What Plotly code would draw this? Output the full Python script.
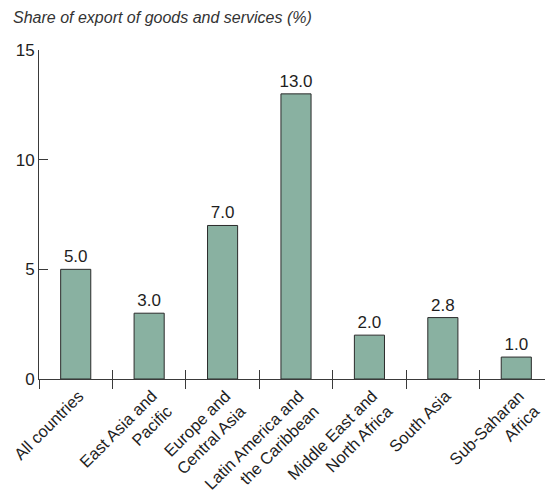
import plotly.graph_objects as go

categories = ["All countries", "East Asia and<br>Pacific", "Europe and<br>Central Asia",
              "Latin America and<br>the Caribbean", "Middle East and<br>North Africa",
              "South Asia", "Sub-Saharan<br>Africa"]
values = [5.0, 3.0, 7.0, 13.0, 2.0, 2.8, 1.0]
y_ticks = [0, 5, 10, 15]

font = "Liberation Sans, Arial, sans-serif"
axis_col = "#3a3a3a"
txt_col = "#1e1e1e"

fig = go.Figure()
fig.add_trace(go.Bar(
    x=list(range(len(categories))), y=values,
    marker=dict(color="#89b1a1", line=dict(color="#2b2b2b", width=1)),
    width=0.41,
    text=[f"{v:.1f}" for v in values], textposition="outside",
    textfont=dict(family=font, size=17, color=txt_col),
    constraintext="none",
    cliponaxis=False, showlegend=False, hoverinfo="skip",
))

bounds = [i - 0.5 for i in range(len(categories) + 1)]

for ax in ("x2", "x3"):
    fig.add_trace(go.Scatter(x=[-0.5, 6.5], y=[0, 0], xaxis=ax, mode="markers",
                             marker=dict(opacity=0), showlegend=False, hoverinfo="skip"))

tick_axis = lambda tk: dict(
    overlaying="x", anchor="y", side="bottom", automargin=False,
    range=[-0.5, 6.5], tickmode="array", tickvals=bounds,
    ticks=tk, ticklen=9, tickwidth=1, tickcolor=axis_col,
    showticklabels=False, showgrid=False, zeroline=False, showline=False,
)

fig.update_layout(
    width=545, height=494,
    margin=dict(l=31, r=0, t=42, b=123),
    paper_bgcolor="white", plot_bgcolor="white",
    font=dict(family=font, size=17, color=txt_col),
    xaxis=dict(
        range=[-0.5, 6.5], tickmode="array", automargin=False,
        tickvals=list(range(len(categories))), ticktext=categories,
        tickangle=-45, tickfont=dict(size=16.5, color=txt_col),
        ticklabeloverflow="allow", ticklabelshift=3,
        showgrid=False, zeroline=False,
        showline=True, linecolor=axis_col, linewidth=1,
        ticks="",
    ),
    xaxis2=tick_axis("outside"),
    xaxis3=tick_axis("inside"),
    yaxis=dict(
        range=[0, 15], tickmode="array", tickvals=y_ticks, automargin=False,
        ticks="inside", ticklen=9, tickwidth=1, tickcolor=axis_col,
        ticklabeloverflow="allow",
        showgrid=False, zeroline=False,
        showline=True, linecolor=axis_col, linewidth=1,
        tickfont=dict(size=17, color=txt_col),
    ),
    annotations=[dict(
        text="<i>Share of export of goods and services (%)</i>",
        xref="paper", yref="paper", x=-0.055, y=1.0, yshift=33,
        xanchor="left", yanchor="middle", showarrow=False,
        font=dict(family=font, size=16, color="#333"),
    )],
)

fig.write_html("out.html")
